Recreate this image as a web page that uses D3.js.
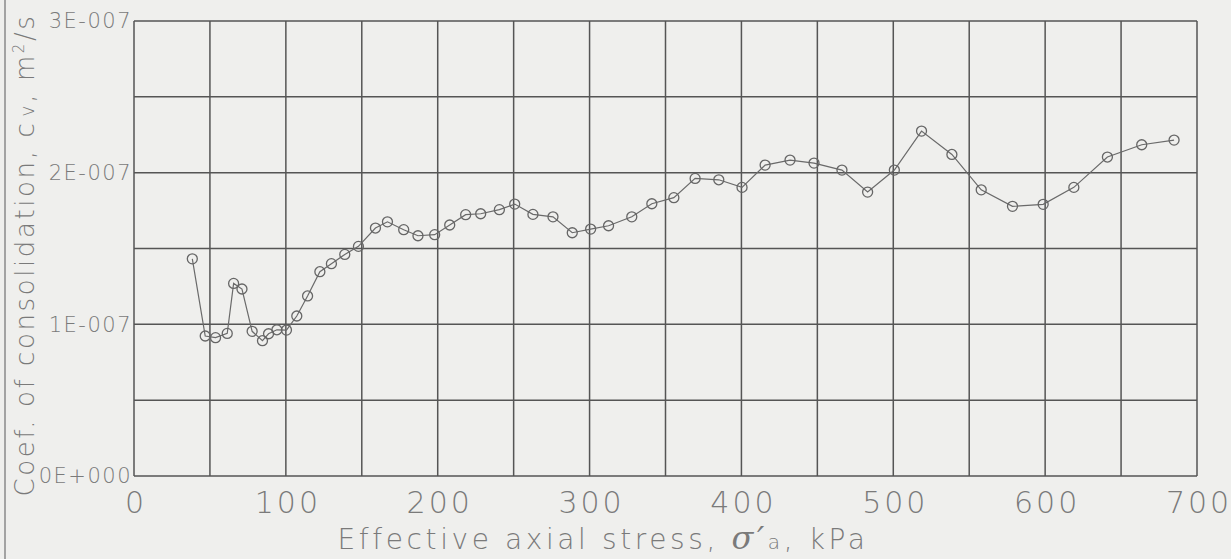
<!DOCTYPE html>
<html>
<head>
<meta charset="utf-8">
<script src="https://cdn.jsdelivr.net/npm/d3@7"></script>
<style>
  html, body { margin: 0; padding: 0; background: #efefed; }
  svg { display: block; }
  text { font-family: "DejaVu Sans", "Liberation Sans", sans-serif; font-weight: 200; fill: #7a7a7a; }
</style>
</head>
<body>
<svg id="chart"></svg>
<script>
const width = 1231;
const height = 559;

// effective axial stress, kPa
const stress = [38.4, 46.9, 53.7, 61.4, 65.6, 71.1, 77.8, 84.6, 88.6, 94.1, 100.4,
  107.2, 114.3, 122.4, 130, 138.8, 147.8, 159, 166.9, 177.6, 187, 198, 207.9,
  218.4, 228.3, 240.6, 250.7, 262.7, 275.9, 288.6, 300.7, 312.5, 327.8, 341,
  355.5, 369.5, 385.1, 400.4, 415.6, 432, 447.8, 466.2, 483.1, 500.7, 518.6,
  538.6, 557.9, 578.5, 598.7, 618.9, 641, 663.6, 684.9];

// coefficient of consolidation cv, m2/s
const cv = [1.432e-7, 0.923e-7, 0.912e-7, 0.94e-7, 1.27e-7, 1.233e-7, 0.954e-7,
  0.892e-7, 0.938e-7, 0.964e-7, 0.962e-7, 1.055e-7, 1.187e-7, 1.347e-7, 1.4e-7,
  1.461e-7, 1.514e-7, 1.635e-7, 1.676e-7, 1.624e-7, 1.584e-7, 1.591e-7, 1.655e-7,
  1.723e-7, 1.729e-7, 1.756e-7, 1.793e-7, 1.725e-7, 1.709e-7, 1.604e-7, 1.628e-7,
  1.65e-7, 1.709e-7, 1.795e-7, 1.835e-7, 1.962e-7, 1.953e-7, 1.903e-7, 2.05e-7,
  2.083e-7, 2.063e-7, 2.017e-7, 1.872e-7, 2.017e-7, 2.274e-7, 2.12e-7, 1.887e-7,
  1.778e-7, 1.791e-7, 1.903e-7, 2.103e-7, 2.184e-7, 2.215e-7];

const xTicks = [0, 100, 200, 300, 400, 500, 600, 700];
const yTicks = [0, 1e-7, 2e-7, 3e-7];
const yTickLabels = ["0E+000", "1E-007", "2E-007", "3E-007"];

const margin = {left: 134, right: 34, top: 21, bottom: 83};

const svg = d3.select("#chart")
  .attr("width", width)
  .attr("height", height);

const x = d3.scaleLinear()
  .domain([0, 700])
  .range([margin.left, width - margin.right]);

const y = d3.scaleLinear()
  .domain([0, 3e-7])
  .range([height - margin.bottom, margin.top]);

// frame line at the left edge of the sheet
svg.append("line")
  .attr("x1", 5).attr("x2", 5)
  .attr("y1", 0).attr("y2", height)
  .attr("stroke", "#8a8a8a")
  .attr("stroke-width", 1.5);

// grid
const grid = svg.append("g").attr("stroke", "#555").attr("stroke-width", 1.5);

grid.selectAll(".vgrid")
  .data(d3.range(0, 701, 50))
  .enter()
  .append("line")
  .attr("x1", d => x(d)).attr("x2", d => x(d))
  .attr("y1", y(0)).attr("y2", y(3e-7));

grid.selectAll(".hgrid")
  .data(d3.range(0, 7).map(i => i * 0.5e-7))
  .enter()
  .append("line")
  .attr("x1", x(0)).attr("x2", x(700))
  .attr("y1", d => y(d)).attr("y2", d => y(d));

// axes (labels only, the grid draws the lines)
const xAxis = d3.axisBottom(x)
  .tickValues(xTicks)
  .tickSize(0)
  .tickPadding(16)
  .tickFormat(d3.format("d"));

svg.append("g")
  .attr("transform", `translate(0, ${y(0)})`)
  .call(xAxis)
  .call(g => g.select(".domain").remove())
  .selectAll("text")
  .attr("font-size", 30)
  .attr("letter-spacing", 3)
  .attr("dx", 1.5)
  .attr("fill", "#7a7a7a")
  .style("font-family", "\"DejaVu Sans\", sans-serif")
  .style("font-weight", 200);

const yAxis = d3.axisLeft(y)
  .tickValues(yTicks)
  .tickSize(0)
  .tickPadding(2)
  .tickFormat((d, i) => yTickLabels[i]);

svg.append("g")
  .attr("transform", `translate(${x(0)}, 0)`)
  .call(yAxis)
  .call(g => g.select(".domain").remove())
  .selectAll("text")
  .attr("font-size", 21)
  .attr("letter-spacing", 1.5)
  .attr("fill", "#7a7a7a")
  .style("font-family", "\"DejaVu Sans\", sans-serif")
  .style("font-weight", 200);

// series
const pts = stress.map((s, i) => ({s, c: cv[i]}));

const line = d3.line()
  .x(d => x(d.s))
  .y(d => y(d.c));

svg.append("path")
  .datum(pts)
  .attr("fill", "none")
  .attr("stroke", "#6a6a6a")
  .attr("stroke-width", 1.2)
  .attr("d", line);

svg.selectAll(".pt")
  .data(pts)
  .enter()
  .append("circle")
  .attr("class", "pt")
  .attr("cx", d => x(d.s))
  .attr("cy", d => y(d.c))
  .attr("r", 5)
  .attr("fill", "none")
  .attr("stroke", "#666")
  .attr("stroke-width", 1.3);

// axis titles
const xTitle = svg.append("text")
  .attr("x", 603)
  .attr("y", 549)
  .attr("text-anchor", "middle")
  .attr("font-size", 28)
  .attr("letter-spacing", 3.6);
xTitle.append("tspan").text("Effective axial stress,  ");
xTitle.append("tspan").attr("font-style", "italic").attr("font-size", 32).attr("font-family", "\"DejaVu Serif\", serif").text("σ′");
xTitle.append("tspan").attr("font-size", 20).text("a");
xTitle.append("tspan").text(", kPa");

const yTitle = svg.append("text")
  .attr("transform", `translate(34, 255) rotate(-90)`)
  .attr("text-anchor", "middle")
  .attr("font-size", 26)
  .attr("letter-spacing", 2.6);
yTitle.append("tspan").text("Coef. of consolidation, c");
yTitle.append("tspan").attr("font-size", 19).attr("dx", 4).text("v");
yTitle.append("tspan").text(",  m");
yTitle.append("tspan").attr("font-size", 15).attr("dy", -10).text("2");
yTitle.append("tspan").attr("dy", 10).text("/s");
</script>
</body>
</html>
